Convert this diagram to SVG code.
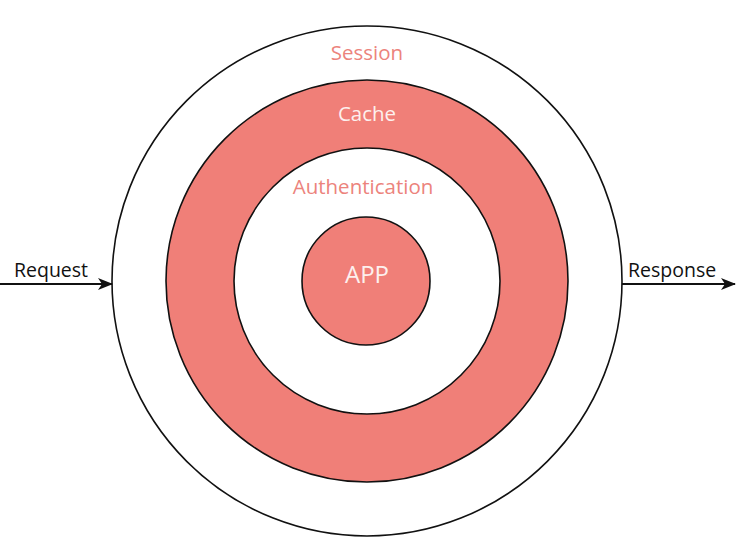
<svg xmlns="http://www.w3.org/2000/svg" width="737" height="552" viewBox="0 0 737 552">
<style>
.ring{stroke:#111;stroke-width:1.6}
.red{fill:#F07F78}
.white{fill:#fff}
.lbl{font-family:"Open Sans","Noto Sans",sans-serif;text-anchor:middle;font-size:20.5px;font-weight:500}
.pink{fill:#EC837C}
.wt{fill:#FDF0EE}
.io{font-family:"Open Sans","Noto Sans",sans-serif;font-size:19.5px;font-weight:500;fill:#111}
.conn{stroke:#111;stroke-width:1.8;fill:none}
</style>
<defs>
<marker id="ah" markerWidth="15" markerHeight="12" refX="14" refY="6" orient="auto" markerUnits="userSpaceOnUse">
<path d="M0,0 L15,6 L0,12 L4,6 Z" fill="#111"/>
</marker>
</defs>
<rect width="737" height="552" fill="#fff"/>
<g id="session"><circle class="ring white" cx="367" cy="281" r="255"/><text class="lbl pink" x="367" y="60">Session</text></g>
<g id="cache"><circle class="ring red" cx="367" cy="281" r="201"/><text class="lbl wt" x="367" y="121">Cache</text></g>
<g id="authentication"><circle class="ring white" cx="367" cy="281" r="133"/><text class="lbl pink" x="363" y="194">Authentication</text></g>
<g id="app"><circle class="ring red" cx="366" cy="281" r="64"/><text class="lbl wt" x="367" y="283" style="font-size:24px">APP</text></g>
<g id="connectors">
<line class="conn" x1="0" y1="284" x2="112" y2="284" marker-end="url(#ah)"/>
<line class="conn" x1="622" y1="284" x2="735" y2="284" marker-end="url(#ah)"/>
</g>
<g id="request"><text class="io" x="14" y="277">Request</text></g>
<g id="response"><text class="io" x="628" y="277">Response</text></g>
</svg>
